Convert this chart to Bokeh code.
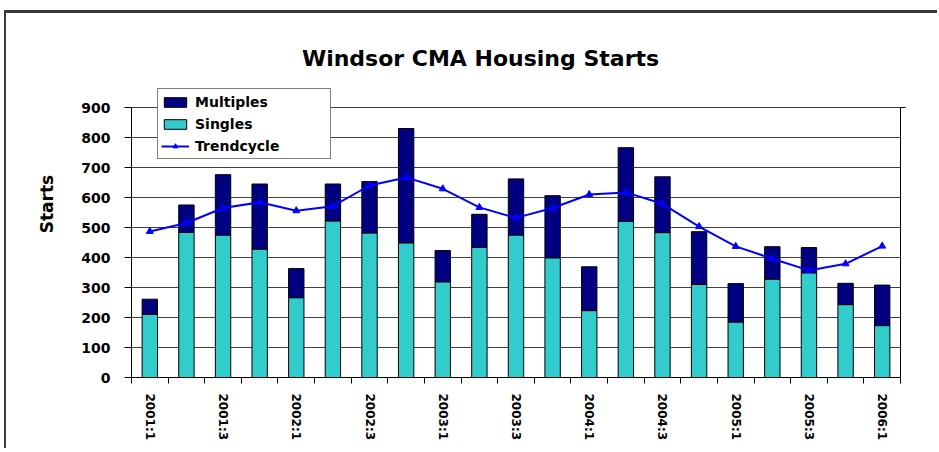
from bokeh.plotting import figure
from bokeh.models import (ColumnDataSource, FixedTicker, LinearAxis, Legend,
                          LegendItem, Label, Range1d)
from bokeh.embed import file_html
from bokeh.resources import INLINE

quarters = ["2001:1", "2001:2", "2001:3", "2001:4", "2002:1", "2002:2", "2002:3",
            "2002:4", "2003:1", "2003:2", "2003:3", "2003:4", "2004:1", "2004:2",
            "2004:3", "2004:4", "2005:1", "2005:2", "2005:3", "2005:4", "2006:1"]
singles = [211, 484, 475, 428, 266, 522, 482, 449, 319, 434, 475, 399, 223, 521,
           483, 310, 185, 328, 349, 243, 173]
multiples = [50, 91, 201, 217, 97, 123, 171, 381, 104, 110, 187, 207, 146, 245,
             186, 176, 128, 108, 84, 71, 135]
trendcycle = [487, 515, 565, 584, 556, 571, 640, 667, 629, 567, 532, 565, 610, 617,
              579, 503, 437, 396, 357, 379, 438]
y_ticks = [0, 100, 200, 300, 400, 500, 600, 700, 800, 900]

xpos = list(range(1, len(quarters) + 1))
src = ColumnDataSource(dict(x=xpos, q=quarters, singles=singles,
                            multiples=multiples, trend=trendcycle))

FONT = "DejaVu Sans"

# frame extends above the 900 line so title and legend (drawn in the frame) are visible
p = figure(width=933, height=438, output_backend="svg", toolbar_location=None,
           x_range=Range1d(0.5, len(quarters) + 0.5), y_range=Range1d(0, 1156.67),
           min_border_left=125, min_border_right=39, min_border_top=17,
           min_border_bottom=74,
           styles={"margin-left": "4px", "margin-top": "10px",
                   "border-left": "2px solid #3a3a3a",
                   "border-top": "3px solid #3a3a3a"})
p.outline_line_color = None
p.background_fill_color = "white"
p.border_fill_color = "white"

bars = p.vbar_stack(["singles", "multiples"], x="x", width=0.42, source=src,
                    fill_color=["#33CCCC", "#000080"], line_color="black",
                    line_width=1)
tl = p.line("x", "trend", source=src, line_color="#0000FF", line_width=2)
ts = p.scatter("x", "trend", source=src, marker="triangle", size=7,
               fill_color="#0000FF", line_color="#0000FF")

# axes
p.xgrid.visible = False
p.ygrid.grid_line_color = "#404040"
p.ygrid.ticker = FixedTicker(ticks=y_ticks)

ya = p.yaxis[0]
ya.ticker = FixedTicker(ticks=y_ticks)
ya.bounds = (0, 900)
ya.axis_line_color = "black"
ya.major_tick_out = 7
ya.major_tick_in = 0
ya.minor_tick_line_color = None
ya.major_label_standoff = 14
ya.major_label_text_font = FONT
ya.major_label_text_font_style = "bold"
ya.major_label_text_font_size = "14px"
ya.major_label_text_color = "black"
ya.axis_label = "Starts"
ya.axis_label_text_font = FONT
ya.axis_label_text_font_style = "bold"
ya.axis_label_text_font_size = "17px"
ya.axis_label_text_color = "black"
ya.axis_label_standoff = 21

xa = p.xaxis[0]
odd = xpos[::2]
xa.ticker = FixedTicker(ticks=odd, minor_ticks=[v - 0.5 for v in xpos] + [xpos[-1] + 0.5])
xa.major_label_overrides = {x: quarters[x - 1] for x in odd}
xa.major_tick_out = 0
xa.major_tick_in = 0
xa.minor_tick_out = 6
xa.minor_tick_in = 0
xa.minor_tick_line_color = "black"
xa.major_label_orientation = "vertical"
xa.major_label_standoff = 10
xa.major_label_text_font = FONT
xa.major_label_text_font_style = "bold"
xa.major_label_text_font_size = "12px"
xa.major_label_text_color = "black"
xa.axis_line_color = "black"

ra = LinearAxis(ticker=FixedTicker(ticks=[900]), bounds=(0, 900), major_tick_out=5,
                major_tick_in=0, minor_tick_line_color=None,
                major_label_overrides={900: ""}, axis_line_color="black",
                major_label_text_font_size="1px")
p.add_layout(ra, "right")

p.add_layout(Label(x=349, y=319, x_units="screen", y_units="screen",
                   text="Windsor CMA Housing Starts", text_align="center",
                   text_baseline="middle", text_font=FONT, text_font_style="bold",
                   text_font_size="22px", text_color="black"))

legend = Legend(items=[LegendItem(label="Multiples", renderers=[bars[1]]),
                       LegendItem(label="Singles", renderers=[bars[0]]),
                       LegendItem(label="Trendcycle", renderers=[tl, ts])],
                location=(26, 218), padding=3, spacing=3, margin=0,
                glyph_width=28, glyph_height=12, label_height=19,
                label_width=132, label_standoff=6,
                label_text_font=FONT, label_text_font_style="bold",
                label_text_font_size="14px", label_text_color="black",
                border_line_color="black", border_line_width=1,
                background_fill_color="white", background_fill_alpha=1)
p.add_layout(legend)

open("out.html", "w").write(file_html(p, INLINE))
